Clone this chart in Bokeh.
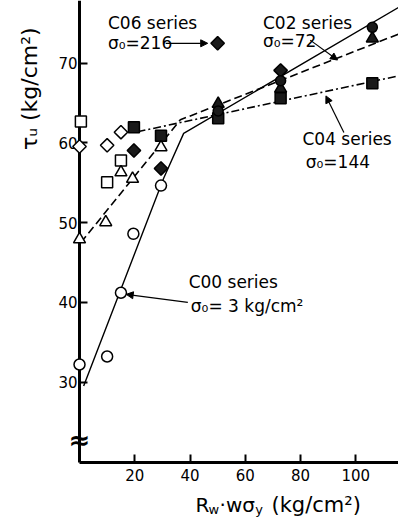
import numpy as np
from bokeh.plotting import figure
from bokeh.models import Label, Arrow, NormalHead, Range1d, FixedTicker
from bokeh.embed import file_html
from bokeh.resources import INLINE

# ---- data ----
c00_open_x = [0, 10, 15, 19.5, 29.5]
c00_open_y = [32.2, 33.2, 41.2, 48.6, 54.65]
c00_fill_x = [50.2, 72.8, 106.0]
c00_fill_y = [64.0, 67.8, 74.5]

c02_open_x = [0, 9.5, 15, 19.2, 29.5]
c02_open_y = [47.9, 50.05, 56.3, 55.5, 59.46]
c02_fill_x = [50.2, 72.8, 106.0]
c02_fill_y = [64.9, 66.8, 73.1]

c04_open_x = [0.5, 10, 15]
c04_open_y = [62.7, 55.07, 57.8]
c04_fill_x = [19.7, 29.5, 50.2, 72.8, 106.0]
c04_fill_y = [61.97, 60.9, 63.1, 65.6, 67.5]

c06_open_x = [0, 10, 15]
c06_open_y = [59.55, 59.7, 61.35]
c06_fill_x = [19.7, 29.5, 72.8]
c06_fill_y = [59.05, 56.8, 69.1]

c06_key_x = [50.0]
c06_key_y = [72.5]

# fitted lines
c00_line_x = [1.5, 30.5, 37.7, 116.0]
c00_line_y = [29.5, 55.6, 61.2, 77.1]
c02_line_x = [0.5, 36.5, 118.0]
c02_line_y = [47.5, 62.9, 74.0]
c04_line_x = [21.0, 118.0]
c04_line_y = [61.4, 68.6]

x_ticks = [20, 40, 60, 80, 100]
y_ticks = [30, 40, 50, 60, 70]

FONT = "DejaVu Sans"
X0, X1 = 0.0, 115.47      # x-axis extent
Y0, Y1 = 19.9, 77.87      # y-axis extent

p = figure(width=398, height=519,
           x_range=Range1d(-28.6, X1), y_range=Range1d(12.75, Y1),
           output_backend="svg", toolbar_location=None,
           min_border_left=0, min_border_right=0,
           min_border_top=0, min_border_bottom=0)
p.outline_line_color = None
p.xgrid.visible = False
p.ygrid.visible = False
p.background_fill_color = "white"

p.xaxis.fixed_location = Y0
p.yaxis.fixed_location = X0
p.xaxis.bounds = (X0, X1)
p.yaxis.bounds = (Y0, Y1)

for ax in (p.xaxis[0], p.yaxis[0]):
    ax.axis_line_width = 3
    ax.axis_line_color = "black"
    ax.major_tick_in = 8
    ax.major_tick_out = 0
    ax.major_tick_line_width = 2
    ax.minor_tick_line_color = None
    ax.major_label_text_font = FONT
    ax.major_label_text_font_size = "15px"
    ax.major_label_text_color = "black"
p.xaxis.ticker = FixedTicker(ticks=x_ticks)
p.yaxis.ticker = FixedTicker(ticks=y_ticks)
p.yaxis.major_label_standoff = 2
p.xaxis.major_label_standoff = 6

# lines
p.line(c00_line_x, c00_line_y, line_color="black", line_width=1.4)
p.line(c02_line_x, c02_line_y, line_color="black", line_width=1.6, line_dash="8 4")
p.line(c04_line_x, c04_line_y, line_color="black", line_width=1.6, line_dash="8 3 2 3")

FILL = "#1a1a1a"
lw = 1.5
# C04 squares
p.scatter(c04_open_x, c04_open_y, marker="square", size=11, fill_color="white",
          line_color="black", line_width=lw, level="overlay")
p.scatter(c04_fill_x, c04_fill_y, marker="square", size=11, fill_color=FILL,
          line_color="black", line_width=lw, level="overlay")
# C06 diamonds
p.scatter(c06_open_x, c06_open_y, marker="square", angle=np.pi / 4, size=9.5,
          fill_color="white", line_color="black", line_width=lw, level="overlay")
p.scatter(c06_fill_x, c06_fill_y, marker="square", angle=np.pi / 4, size=9.5,
          fill_color=FILL, line_color="black", line_width=lw, level="overlay")
p.scatter(c06_key_x, c06_key_y, marker="square", angle=np.pi / 4, size=9.5,
          fill_color=FILL, line_color="black", line_width=lw, level="overlay")
# C02 triangles
p.scatter(c02_open_x, c02_open_y, marker="triangle", size=12, fill_color="white",
          line_color="black", line_width=lw, level="overlay")
p.scatter(c02_fill_x, c02_fill_y, marker="triangle", size=12, fill_color=FILL,
          line_color="black", line_width=lw, level="overlay")
# C00 circles
p.scatter(c00_open_x, c00_open_y, marker="circle", size=11, fill_color="white",
          line_color="black", line_width=lw, level="overlay")
p.scatter(c00_fill_x, c00_fill_y, marker="circle", size=10, fill_color=FILL,
          line_color="black", line_width=lw, level="overlay")

def lab(x, y, text, size="17px", align="left", baseline="middle", angle=0.0,
        style="normal"):
    p.add_layout(Label(x=x, y=y, text=text, text_font=FONT, text_font_size=size,
                       text_align=align, text_baseline=baseline, angle=angle,
                       text_color="black", text_font_style=style))

lab(10.3, 75.0, "C06 series")
lab(10.3, 72.5, "σ₀=216")
lab(66.4, 75.1, "C02 series")
lab(66.4, 72.85, "σ₀=72")
lab(80.7, 60.55, "C04 series")
lab(81.9, 57.55, "σ₀=144")
lab(39.5, 42.5, "C00 series")
lab(40.3, 39.6, "σ₀= 3 kg/cm²")

def arr(x0, y0, x1, y1):
    p.add_layout(Arrow(x_start=x0, y_start=y0, x_end=x1, y_end=y1,
                       line_color="black", line_width=1.2,
                       end=NormalHead(size=7, fill_color="black", line_color="black")))

arr(31.2, 72.5, 46.4, 72.5)
arr(83.5, 72.9, 93.4, 70.4)
arr(95.7, 61.3, 89.2, 65.9)
arr(39.2, 40.0, 16.9, 41.0)

# axis break mark
lab(0, 22.7, "≈", size="26px", align="center", style="bold")

# y axis label
lab(-18.1, 66.8, "τᵤ (kg/cm²)", size="22px", align="center", angle=np.pi / 2)

# x axis label pieces
lab(42.0, 14.6, "R", size="20px")
lab(46.7, 13.95, "w", size="13px")
lab(50.7, 14.6, "·wσ", size="20px")
lab(63.6, 13.95, "y", size="13px")
lab(69.5, 14.6, "(kg/cm²)", size="21px")

open("out.html", "w").write(file_html(p, INLINE))
